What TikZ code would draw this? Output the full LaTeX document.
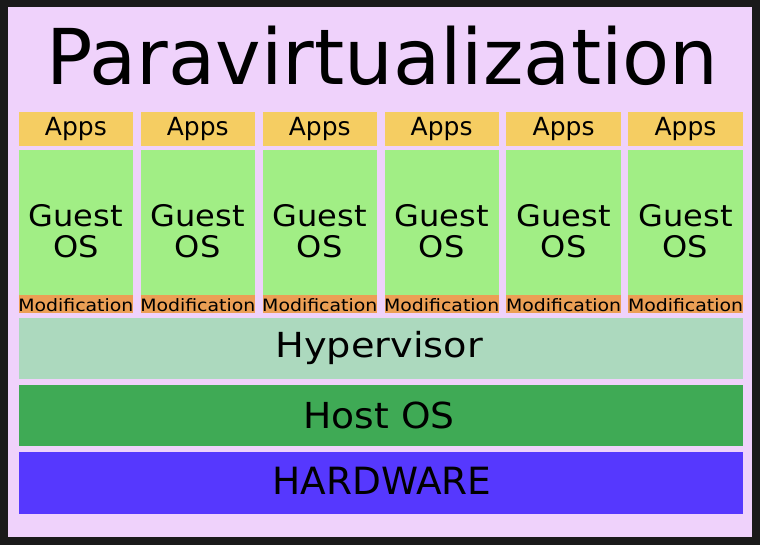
\documentclass[tikz,border=0pt]{standalone}
\usepackage{fontspec}
\setmainfont{DejaVu Sans}
\newfontfamily\fguest[FakeStretch=1.08]{DejaVu Sans}
\newfontfamily\fhyp[FakeStretch=1.11]{DejaVu Sans}
\newfontfamily\fmod[FakeStretch=1.11]{DejaVu Sans}
\newfontfamily\fhost[FakeStretch=1.05]{DejaVu Sans}
\definecolor{frame}{HTML}{1A1A1A}
\definecolor{lilac}{HTML}{EFD2FB}
\definecolor{appsc}{HTML}{F5CD62}
\definecolor{guestc}{HTML}{A1EE85}
\definecolor{modc}{HTML}{EB9F55}
\definecolor{hypc}{HTML}{ACD9BE}
\definecolor{hostc}{HTML}{3FAA55}
\definecolor{hwc}{HTML}{5638FE}
\tikzset{
  box/.style={inner sep=0pt, outer sep=0pt, anchor=north west},
  appsbox/.style={box, fill=appsc, minimum width=114.3pt, minimum height=34pt},
  guestbox/.style={box, fill=guestc, minimum width=114.3pt, minimum height=163pt},
  modbox/.style={box, fill=modc, minimum width=114.3pt, minimum height=18pt},
  band/.style={box, minimum width=724pt, minimum height=61.5pt},
  lbl/.style={inner sep=0pt, outer sep=0pt, anchor=base, text=black},
}
\begin{document}
\begin{tikzpicture}[x=1pt,y=-1pt]
\useasboundingbox (0,0) rectangle (760,545);
\fill[frame] (0,0) rectangle (760,545);
\fill[lilac] (8,7) rectangle (752,537);
\node[lbl, font=\fontsize{77}{80}\selectfont] (title) at (382.5,85) {Paravirtualization};
\foreach \i in {0,...,5} {
  \pgfmathsetmacro{\xx}{18.7+121.94*\i}
  \pgfmathsetmacro{\xc}{\xx+57.15}
  \node[appsbox] (apps\i) at (\xx,112) {};
  \node[guestbox] (guest\i) at (\xx,150) {};
  \node[modbox] (mod\i) at (\xx,295) {};
  \node[lbl, font=\fontsize{25}{28}\selectfont] (appst\i) at (\xc,135.5) {Apps};
  \node[lbl, font=\fguest\fontsize{29.7}{31}\selectfont] (gt\i) at (\xc,226.7) {Guest};
  \node[lbl, font=\fguest\fontsize{29.7}{31}\selectfont] (go\i) at (\xc,257.7) {OS};
  \node[lbl, font=\fmod\fontsize{17}{18}\selectfont] (mt\i) at (\xc,311) {Modification};
}
\node[band, fill=hypc] (hyp) at (18.7,317.7) {};
\node[band, fill=hostc] (host) at (18.7,384.5) {};
\node[band, fill=hwc] (hw) at (18.7,452) {};
\node[lbl, font=\fhyp\fontsize{34.5}{38}\selectfont] (hypt) at (379.2,357.5) {Hypervisor};
\node[lbl, font=\fhost\fontsize{35.8}{38}\selectfont] (hostt) at (379.2,428.3) {Host OS};
\node[lbl, font=\fontsize{37.5}{40}\selectfont] (hwt) at (382,494.7) {HARDWARE};
\end{tikzpicture}
\end{document}
